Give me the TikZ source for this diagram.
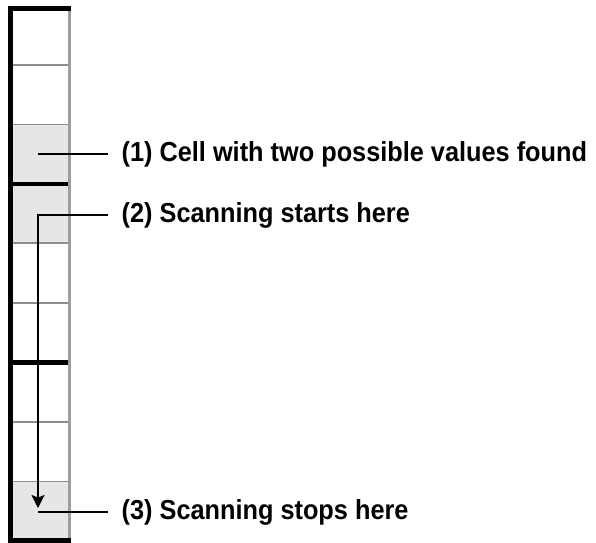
\documentclass[tikz,border=0pt]{standalone}
\usepackage{fontspec}
\setmainfont{Liberation Sans}[FakeStretch=0.92]
\usetikzlibrary{arrows.meta}
\definecolor{cellfill}{HTML}{E6E6E6}
\definecolor{gridgray}{HTML}{8C8C8C}
\definecolor{edgegray}{HTML}{9E9E9E}

\begin{document}
\begin{tikzpicture}[x=1pt,y=-1pt,
  thickrule/.style={line width=4.6pt},
  thinrule/.style={gridgray,line width=1.6pt},
  leader/.style={line width=2pt},
  label/.style={anchor=base west,inner sep=0pt,
    font=\fontsize{27.5}{32}\selectfont\bfseries},
]
\useasboundingbox (0,0) rectangle (596,542);

% shaded cells of the column
\fill[cellfill] (13,124.5) rectangle (68,243);
\fill[cellfill] (13,481.5) rectangle (68,542);

% thin cell dividers
\foreach \y in {65,124.5,243,303,422,481.5}
  \draw[thinrule] (13,\y) -- (68,\y);

% right edge of the column
\draw[edgegray,line width=2.4pt] (69.3,8) -- (69.3,542);

% heavy box borders
\draw[thickrule] (10.5,542) -- (10.5,8.5) -- (71,8.5);
\foreach \y in {184,362.5}
  \draw[thickrule] (10.5,\y) -- (68,\y);
\draw[thickrule] (8,540.5) -- (71,540.5);

% callout anchor points inside the cells
\coordinate (c1) at (38,154.3);
\coordinate (c2) at (38,215);
\coordinate (c3) at (38,512.3);
\coordinate (stop) at (38,508);

% labels
\node[label] (t1) at (121.5,161.3) {(1) Cell with two possible values found};
\node[label] (t2) at (121.5,222.2) {(2) Scanning starts here};
\node[label] (t3) at (121.5,519.5) {(3) Scanning stops here};

% leaders and scan arrow
\draw[leader] (c1) -- ([xshift=-14pt]c1 -| t1.west);
\draw[leader,line join=miter,-{Stealth[length=13pt,width=13pt,inset=2.5pt]}]
  ([xshift=-14pt]c2 -| t2.west) -- (c2) -- (stop);
\draw[leader] (c3) -- ([xshift=-14pt]c3 -| t3.west);
\end{tikzpicture}
\end{document}
